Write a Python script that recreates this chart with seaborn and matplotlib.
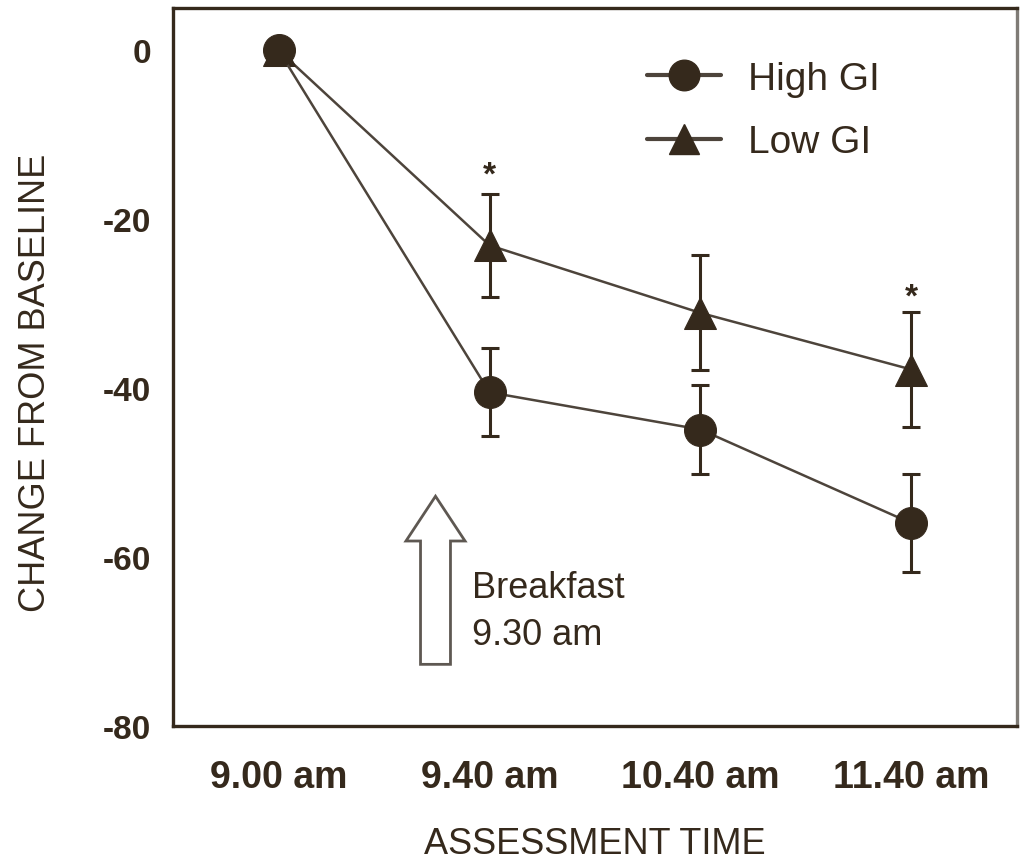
import matplotlib
matplotlib.use("Agg")
import matplotlib.pyplot as plt
import numpy as np
import pandas as pd
import seaborn as sns
from matplotlib.lines import Line2D
from matplotlib.patches import FancyArrow

# data
times = ["9.00 am", "9.40 am", "10.40 am", "11.40 am"]
high_gi = [0.0, -40.5, -44.9, -56.0]
high_gi_err = [0.0, 5.2, 5.3, 5.8]
low_gi = [0.0, -23.1, -31.1, -37.8]
low_gi_err = [0.0, 6.1, 6.8, 6.8]
star_times = ["9.40 am", "11.40 am"]
star_y = [-14.8, -29.2]
y_ticks = [0, -20, -40, -60, -80]

INK = "#35291c"
LINE = "#4d443b"
GREY = "#7f7b76"

sns.set_style("white")
plt.rcParams["font.family"] = ["Liberation Sans", "DejaVu Sans"]

df = pd.DataFrame({
    "pos": list(range(len(times))) * 2,
    "change": high_gi + low_gi,
    "err": high_gi_err + low_gi_err,
    "group": ["High GI"] * len(times) + ["Low GI"] * len(times),
})

fig = plt.figure(figsize=(10.21, 8.62), dpi=100)
ax = fig.add_axes([0.1695, 0.1566, 0.8265, 0.833])

# error bars first, so markers sit on top
for grp, sub in df.groupby("group"):
    ax.errorbar(sub["pos"], sub["change"], yerr=sub["err"], fmt="none",
                ecolor=INK, elinewidth=2.2, capsize=6.5, capthick=2.2, zorder=2)

sns.lineplot(data=df, x="pos", y="change", style="group",
             style_order=["Low GI", "High GI"],
             markers={"High GI": "o", "Low GI": "^"}, dashes=False,
             color=LINE, linewidth=1.8, markersize=23,
             markerfacecolor=INK, markeredgecolor=INK,
             legend=False, ax=ax, zorder=3)

for t, y in zip(star_times, star_y):
    ax.text(times.index(t), y, "*", ha="center", va="center",
            fontsize=24, fontweight="bold", color=INK)

# breakfast arrow (hollow)
ax.add_patch(FancyArrow(0.744, -72.7, 0, 19.9, width=0.142, head_width=0.28,
                        head_length=5.3, length_includes_head=True,
                        fc="white", ec="#5e5852", lw=2, zorder=1))
ax.text(0.915, -66.4, "Breakfast\n9.30 am", ha="left", va="center",
        fontsize=26, color=INK, linespacing=1.45)

handles = [
    Line2D([], [], color=LINE, lw=3, marker="o", markersize=22,
           markerfacecolor=INK, markeredgecolor=INK),
    Line2D([], [], color=LINE, lw=3, marker="^", markersize=22,
           markerfacecolor=INK, markeredgecolor=INK),
]
ax.legend(handles, ["High GI", "Low GI"], loc="upper left",
          bbox_to_anchor=(0.562, 0.926), frameon=False, fontsize=28,
          handlelength=1.9, handletextpad=0.7, labelspacing=0.7,
          borderpad=0, borderaxespad=0, labelcolor=INK)

ax.set_xlim(-0.5, 3.5)
ax.set_ylim(-80, 5)
ax.set_xticks(range(len(times)))
ax.set_xticklabels(times, fontsize=27, fontweight="bold", color=INK)
ax.set_yticks(y_ticks)
ax.set_yticklabels([str(v) for v in y_ticks], fontsize=24, fontweight="bold", color=INK)
ax.tick_params(axis="both", direction="out", length=6, width=1.6, color=GREY)
ax.tick_params(axis="x", pad=18)
ax.tick_params(axis="y", pad=10)

ax.set_xlabel("ASSESSMENT TIME", fontsize=26, color=INK)
ax.set_ylabel("CHANGE FROM BASELINE", fontsize=26, color=INK)
ax.xaxis.label.set_va("center")
ax.yaxis.label.set_va("center")
ax.xaxis.set_label_coords(0.5, -0.163)
ax.yaxis.set_label_coords(-0.1635, 0.479)

for side in ["left", "bottom", "top"]:
    ax.spines[side].set_color(INK)
    ax.spines[side].set_linewidth(2.4)
ax.spines["right"].set_color(GREY)
ax.spines["right"].set_linewidth(2.4)

fig.savefig("out.png", dpi=100)
